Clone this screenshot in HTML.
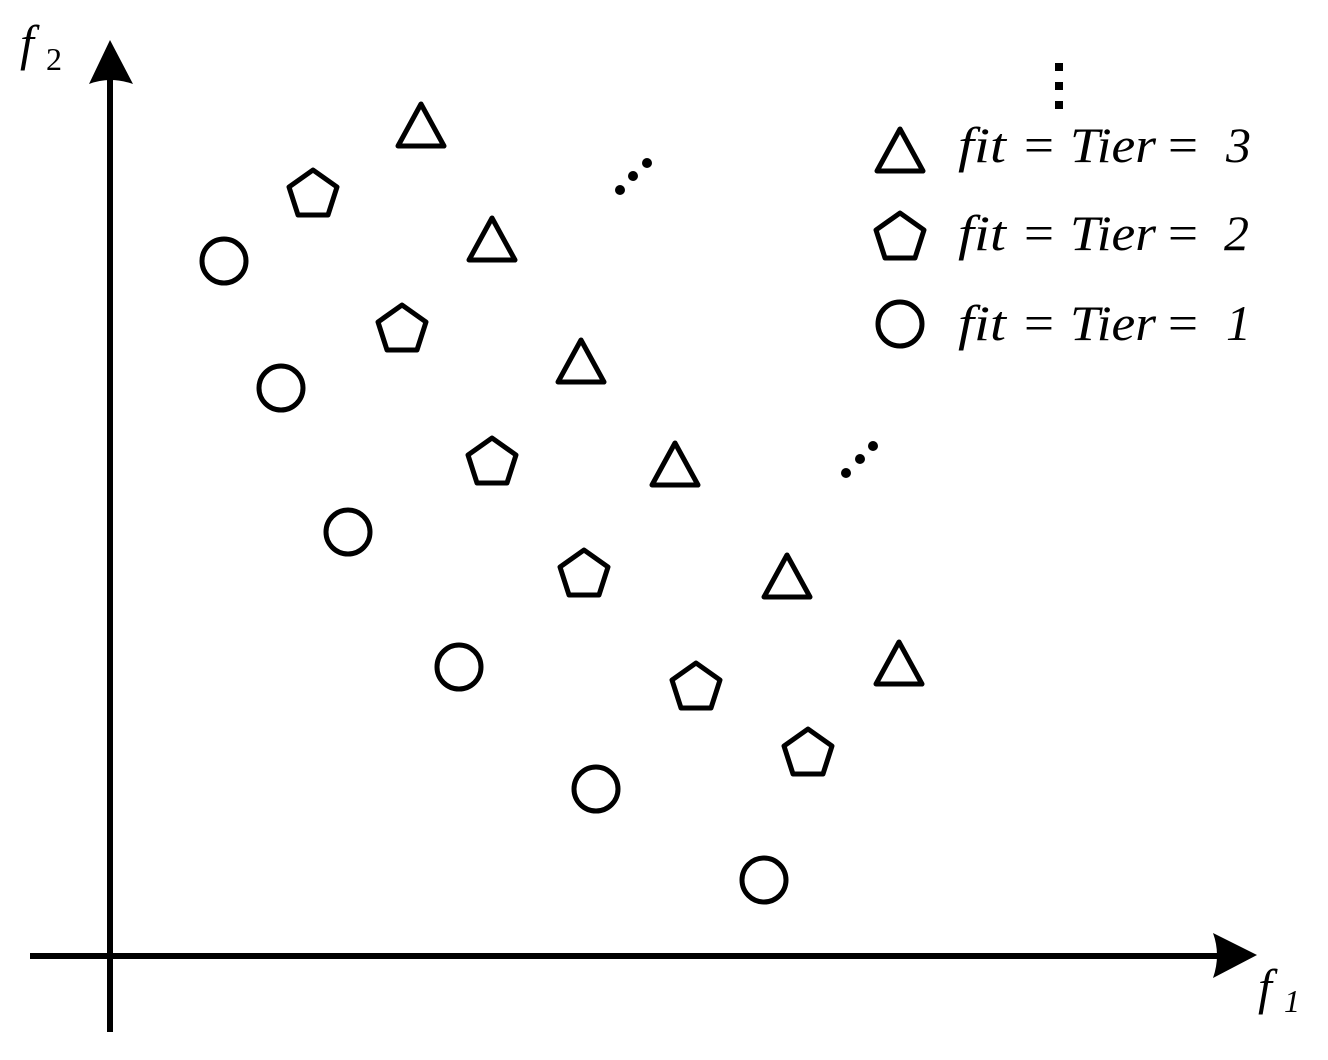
<!DOCTYPE html>
<html><head><meta charset="utf-8"><style>html,body{margin:0;padding:0;background:#fff}svg{display:block}
.t{font-family:"Liberation Serif","DejaVu Serif",serif;}
.i{font-style:italic}</style></head>
<body>
<svg width="1328" height="1060" viewBox="0 0 1328 1060" xmlns="http://www.w3.org/2000/svg">
<defs>
<polygon id="pen" points="0,-24 24,-7 15,21 -15,21 -24,-7" fill="none" stroke="#000" stroke-width="5" stroke-linejoin="round"/>
<polygon id="tri" points="0,-21 23,21 -23,21" fill="none" stroke="#000" stroke-width="5" stroke-linejoin="round"/>
<circle id="cir" r="22" fill="none" stroke="#000" stroke-width="5"/>
</defs>
<line x1="110" y1="75" x2="110" y2="1032" stroke="#000" stroke-width="6"/>
<path d="M110,40 L133,84 Q110,76 89,84 Z" fill="#000"/>
<line x1="30" y1="956" x2="1222" y2="956" stroke="#000" stroke-width="6"/>
<path d="M1257,955 L1213,933 Q1221,955 1213,978 Z" fill="#000"/>
<g class="t" fill="#000">
<text class="i" x="20" y="60" font-size="50">f</text>
<text x="46" y="70" font-size="32">2</text>
<text class="i" x="1258" y="1004" font-size="50">f</text>
<text class="i" x="1284" y="1012" font-size="32">1</text>
</g>
<use href="#cir" x="224" y="261"/>
<use href="#cir" x="281" y="388"/>
<use href="#cir" x="348" y="532"/>
<use href="#cir" x="459" y="667"/>
<use href="#cir" x="596" y="789"/>
<use href="#cir" x="764" y="880"/>
<use href="#pen" x="313" y="194"/>
<use href="#pen" x="402" y="329"/>
<use href="#pen" x="492" y="462"/>
<use href="#pen" x="584" y="574"/>
<use href="#pen" x="696" y="687"/>
<use href="#pen" x="808" y="753"/>
<use href="#tri" x="421" y="125"/>
<use href="#tri" x="492" y="239"/>
<use href="#tri" x="581" y="361"/>
<use href="#tri" x="675" y="464"/>
<use href="#tri" x="787" y="576"/>
<use href="#tri" x="899" y="663"/>
<g fill="#000">
<circle cx="620" cy="190" r="5"/><circle cx="633" cy="176" r="5"/><circle cx="647" cy="163" r="5"/>
<circle cx="846" cy="473" r="5"/><circle cx="860" cy="459" r="5"/><circle cx="873" cy="446" r="5"/>
<rect x="1055" y="63" width="8" height="8"/><rect x="1055" y="82" width="8" height="8"/><rect x="1055" y="101" width="8" height="8"/>
</g>
<use href="#tri" x="900" y="150"/>
<use href="#pen" x="900" y="237"/>
<use href="#cir" x="900" y="324"/>
<g class="t" font-size="50" fill="#000">
<text class="i" x="958" y="162" textLength="48" lengthAdjust="spacingAndGlyphs">fit</text><text class="i" x="1070" y="162" textLength="86" lengthAdjust="spacingAndGlyphs">Tier</text><text class="i" x="1226" y="162">3</text>
<text x="1024" y="162" textLength="30" lengthAdjust="spacingAndGlyphs">=</text><text x="1168" y="162" textLength="30" lengthAdjust="spacingAndGlyphs">=</text>
<text class="i" x="958" y="250" textLength="48" lengthAdjust="spacingAndGlyphs">fit</text><text class="i" x="1070" y="250" textLength="86" lengthAdjust="spacingAndGlyphs">Tier</text><text class="i" x="1224" y="250">2</text>
<text x="1024" y="250" textLength="30" lengthAdjust="spacingAndGlyphs">=</text><text x="1168" y="250" textLength="30" lengthAdjust="spacingAndGlyphs">=</text>
<text class="i" x="958" y="340" textLength="48" lengthAdjust="spacingAndGlyphs">fit</text><text class="i" x="1070" y="340" textLength="86" lengthAdjust="spacingAndGlyphs">Tier</text><text class="i" x="1226" y="340">1</text>
<text x="1024" y="340" textLength="30" lengthAdjust="spacingAndGlyphs">=</text><text x="1168" y="340" textLength="30" lengthAdjust="spacingAndGlyphs">=</text>
</g>
</svg>
</body></html>
